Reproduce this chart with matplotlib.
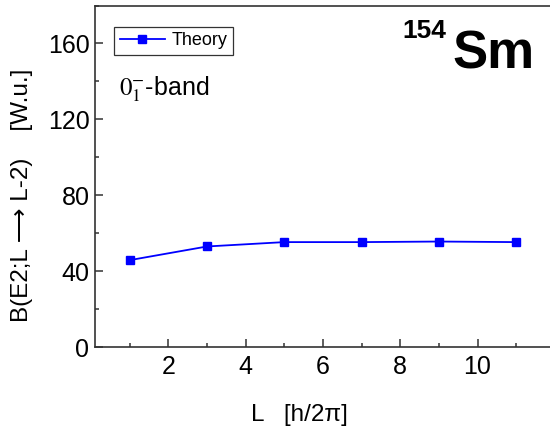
import matplotlib
matplotlib.use("Agg")
import matplotlib.pyplot as plt
from matplotlib.ticker import MultipleLocator

plt.rcParams['font.family'] = ['Liberation Sans', 'DejaVu Sans']
plt.rcParams['mathtext.fontset'] = 'stix'

L = [1, 3, 5, 7, 9, 11]
BE2 = [45.8, 53.0, 55.3, 55.3, 55.6, 55.3]
xticks = [2, 4, 6, 8, 10]
yticks = [0, 40, 80, 120, 160]

fig = plt.figure(figsize=(5.5, 4.29), dpi=100)
ax = fig.add_axes([0.1727, 0.1911, 0.836, 0.796])

ax.plot(L, BE2, color='#0000ff', lw=1.3, marker='s', markersize=5.5,
        markerfacecolor='#0000ff', markeredgecolor='#0000ff', label='Theory')

ax.set_xlim(0.1, 12)
ax.set_ylim(0, 180)
ax.set_xticks(xticks)
ax.set_yticks(yticks)
ax.xaxis.set_minor_locator(MultipleLocator(1))
ax.yaxis.set_minor_locator(MultipleLocator(20))
ax.tick_params(which='both', direction='in', colors='#333333', labelcolor='black',
               labelsize=18, width=1.1)
ax.tick_params(which='major', length=6)
ax.tick_params(which='minor', length=3)
ax.tick_params(axis='x', pad=6)
ax.tick_params(axis='y', pad=4)
for s in ax.spines.values():
    s.set_color('#333333')
    s.set_linewidth(1.2)

leg = ax.legend(loc='upper left', bbox_to_anchor=(0.042, 0.937), fontsize=13,
                frameon=True, fancybox=False, handlelength=2.5, borderpad=0.3,
                handletextpad=0.4, borderaxespad=0)
leg.get_frame().set_edgecolor('black')
leg.get_frame().set_linewidth(0.9)

fig.text(0.216, 0.793, r'$0_{1}^{-}$-band', fontsize=18, ha='left', va='center')

fig.text(0.731, 0.927, '154', fontsize=19, fontweight='bold', ha='left', va='center')
fig.text(0.822, 0.872, 'Sm', fontsize=38, fontweight='bold', ha='left', va='center')

fig.text(0.545, 0.033, 'L   [h/2\u03c0]', fontsize=17.5, ha='center', va='center')
fig.text(0.04, 0.545, 'B(E2;L \u27f6 L-2)    [W.u.]', fontsize=17.5, rotation=90,
         ha='center', va='center')

fig.savefig('out.png', dpi=100)
